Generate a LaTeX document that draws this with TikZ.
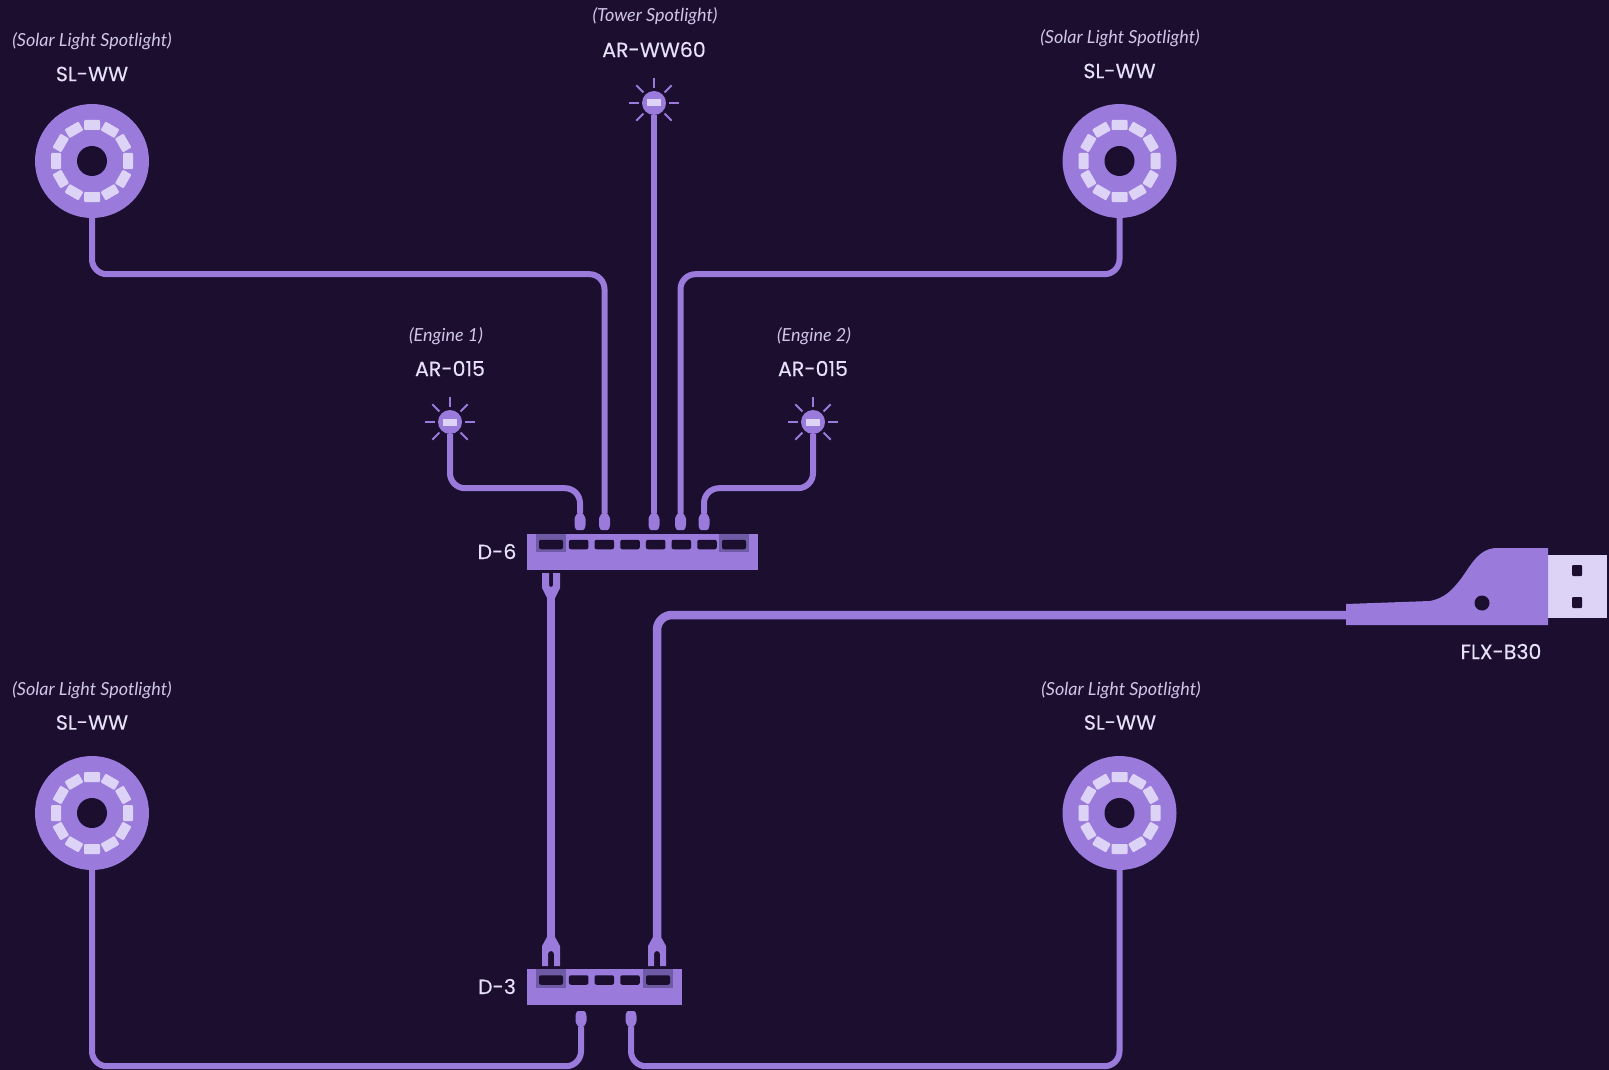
\documentclass[tikz,border=0pt]{standalone}
\usepackage{fontspec}

\newfontfamily\modelfont[FakeBold=0.25]{Poppins}
\newfontfamily\notefont{Lato}
\definecolor{nightbg}{HTML}{1B0E2F}
\definecolor{lilac}{HTML}{9A7ADB}
\definecolor{lilacpale}{HTML}{DDD3F7}
\definecolor{lilacdark}{HTML}{6E5AA5}
\definecolor{labelpale}{HTML}{E6E0F8}
\definecolor{notepale}{HTML}{CFC6E8}

\tikzset{
	plugdown/.pic={\fill[lilac,rounded corners=1pt] (-2.7,0) -- (-5.5,5) -- (-5.5,13) -- (-4,17) -- (4,17) -- (5.5,13) -- (5.5,5) -- (2.7,0) -- cycle;},
	plugup/.pic={\fill[lilac,rounded corners=1pt] (-2.7,0) -- (-5.5,-5) -- (-5.5,-12) -- (-4,-16) -- (4,-16) -- (5.5,-12) -- (5.5,-5) -- (2.7,0) -- cycle;},
	forkdown/.pic={\fill[lilac] (-4,0) -- (-9,9) -- (-9,29) -- (-3,29) -- (-3,17) arc (180:360:3) -- (3,29) -- (9,29) -- (9,9) -- (4,0) -- cycle;},
	forkup/.pic={\fill[lilac] (-4,0) -- (-9,-10) -- (-9,-25) -- (-2,-25) -- (-2,-13) arc (180:0:2) -- (2,-25) -- (9,-25) -- (9,-10) -- (4,0) -- cycle;}
}

\begin{document}
\begin{tikzpicture}[x=1pt,y=-1pt]
	\tikzstyle{spot}=[circle,fill=lilac,inner sep=0,minimum size=114pt]
	\tikzstyle{hole}=[circle,fill=nightbg,inner sep=0,minimum size=30pt]
	\tikzstyle{led}=[rectangle,rounded corners=1pt,fill=lilacpale,inner sep=0,minimum width=16pt,minimum height=10pt]
	\tikzstyle{lamp}=[circle,fill=lilac,inner sep=0,minimum size=24pt]
	\tikzstyle{lampled}=[rectangle,fill=lilacpale,inner sep=0,minimum width=14pt,minimum height=7pt]
	\tikzstyle{ray}=[lilac,line width=1.8pt]
	\tikzstyle{wire}=[lilac,line width=6pt,rounded corners=15pt]
	\tikzstyle{thickwire}=[lilac,line width=8.5pt,rounded corners=15pt]
	\tikzstyle{switchbody}=[rectangle,fill=lilac,inner sep=0,minimum height=36pt]
	\tikzstyle{port}=[rectangle,rounded corners=2pt,fill=nightbg,inner sep=0,minimum width=19.5pt,minimum height=9.5pt]
	\tikzstyle{wideport}=[port,minimum width=24pt]
	\tikzstyle{glow}=[rectangle,fill=lilacdark,inner sep=0,minimum width=30pt,minimum height=18pt]
	\tikzstyle{model}=[labelpale,font=\modelfont\fontsize{20.5}{24}\selectfont,inner sep=0]
	\tikzstyle{note}=[notepale,font=\notefont\itshape\fontsize{18}{20}\selectfont,inner sep=0]

	\useasboundingbox (0,0) rectangle (1609,1070);
	\fill[nightbg] (0,0) rectangle (1609,1070);

	% big spotlights
	\node (spotA) [spot] at (92,161) {};
	\node (spotB) [spot] at (1119.5,161) {};
	\node (spotC) [spot] at (92,813) {};
	\node (spotD) [spot] at (1119.5,813) {};
	\foreach \s in {spotA,spotB,spotC,spotD} {
		\node [hole] at (\s) {};
		\begin{scope}[shift={(\s.center)}]
			\foreach \a in {0,30,...,330}
				\node [led,rotate=90-\a] at (\a:36) {};
		\end{scope}
	}

	% small lamps
	\node (lampA) [lamp] at (654,103) {};
	\node (lampB) [lamp] at (450,422) {};
	\node (lampC) [lamp] at (813,422) {};
	\foreach \s in {lampA,lampB,lampC} {
		\node [lampled] at (\s) {};
		\foreach \a in {0,45,...,315}
			\draw [ray,shift={(\s.center)}] (\a:15) -- (\a:25);
	}

	% D-6
	\node (switchA) [switchbody,minimum width=231pt] at (642.5,552) {};
	\node [glow] at (551,543) {};
	\node [glow] at (734,543) {};
	\node [wideport] at (551,544.5) {};
	\node [wideport] at (734,544.5) {};
	\foreach \x in {578.7,604.3,630,655.7,681.3,707}
		\node [port] at (\x,544.5) {};

	% D-3
	\node (switchB) [switchbody,minimum width=155pt] at (604.5,987) {};
	\node [glow,minimum height=19pt] at (551,978.5) {};
	\node [glow,minimum height=19pt] at (658,978.5) {};
	\node [wideport] at (551,980) {};
	\node [wideport] at (658,980) {};
	\foreach \x in {578.7,604.3,630}
		\node [port] at (\x,980) {};

	% plugs
	\foreach \n/\x in {plugA/580,plugB/604.5,plugC/654,plugD/680.5,plugE/704} {
		\coordinate (\n) at (\x,513);
		\pic at (\n) {plugdown};
	}
	\foreach \n/\x in {plugF/581,plugG/631} {
		\coordinate (\n) at (\x,1027);
		\pic at (\n) {plugup};
	}
	\coordinate (forkA) at (551,598);
	\coordinate (forkB) at (551,937);
	\coordinate (forkC) at (657,937);
	\pic at (forkA) {forkup};
	\pic at (forkB) {forkdown};
	\pic at (forkC) {forkdown};

	% usb plug
	\fill [lilacpale] (1548,555) rectangle (1607,618);
	\fill [nightbg,rounded corners=1pt] (1572,565) rectangle (1582,576);
	\fill [nightbg,rounded corners=1pt] (1572,597) rectangle (1582,608);
	\fill [lilac] (1346,604) -- (1430,601) .. controls (1445,598) and (1452,590) .. (1460,580)
		.. controls (1470,567) and (1478,548) .. (1497,548) -- (1548,548) -- (1548,625) -- (1346,625) -- cycle;
	\node (usb) [circle,fill=nightbg,inner sep=0,minimum size=15pt] at (1482,603) {};
	\coordinate (usbend) at (1347,615);

	% wires
	\draw [wire] (spotA.south) -- ++(0,56) -| (plugB);
	\draw [wire] (spotB.south) -- ++(0,56) -| (plugD);
	\draw [wire] (lampA.south) -- (plugC);
	\draw [wire] (lampB.south) -- ++(0,54) -| (plugA);
	\draw [wire] (lampC.south) -- ++(0,54) -| (plugE);
	\draw [wire] (spotC.south) -- ++(0,196) -| (plugF);
	\draw [wire] (spotD.south) -- ++(0,196) -| (plugG);
	\draw [thickwire] (forkA) -- (forkB);
	\draw [thickwire] (forkC) |- (usbend);

	% labels
	\node (noteA) [note] at (92,41) {(Solar Light Spotlight)};
	\node (nameA) [model] at (92,74) {SL-WW};
	\node (noteB) [note] at (655,16.5) {(Tower Spotlight)};
	\node (nameB) [model] at (654,49.5) {AR-WW60};
	\node (noteC) [note] at (1120,38) {(Solar Light Spotlight)};
	\node (nameC) [model] at (1119.5,71) {SL-WW};
	\node (noteD) [note] at (446,336) {(Engine 1)};
	\node (nameD) [model] at (450,368.5) {AR-015};
	\node (noteE) [note] at (814,336) {(Engine 2)};
	\node (nameE) [model] at (813,368.5) {AR-015};
	\node (nameF) [model] at (497,551.5) {D-6};
	\node (nameG) [model] at (497,986.5) {D-3};
	\node (nameH) [model] at (1501,651.5) {FLX-B30};
	\node (noteI) [note] at (92,690) {(Solar Light Spotlight)};
	\node (nameI) [model] at (92,722.5) {SL-WW};
	\node (noteJ) [note] at (1121,690) {(Solar Light Spotlight)};
	\node (nameJ) [model] at (1120,722.5) {SL-WW};
\end{tikzpicture}
\end{document}
